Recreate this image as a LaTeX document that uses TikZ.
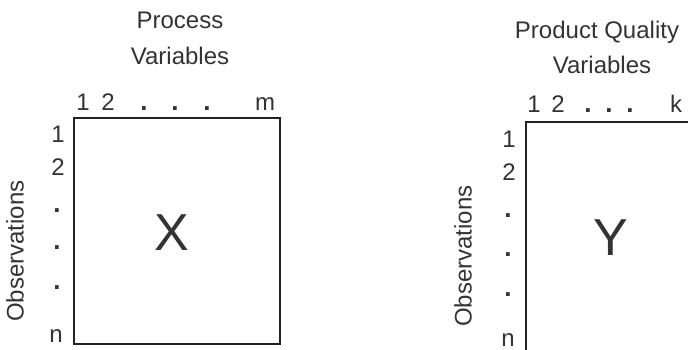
\documentclass[tikz,border=0pt]{standalone}
\usepackage{fontspec}
\setmainfont{Liberation Sans}
\definecolor{ink}{HTML}{333333}
\definecolor{edge}{HTML}{222222}
\begin{document}
\begin{tikzpicture}[x=1pt,y=-1pt,
  lbl/.style={font=\fontsize{24}{28}\selectfont, text=ink, inner sep=0pt, anchor=base},
  dotl/.style={font=\fontsize{26}{28}\selectfont\bfseries, text=ink, inner sep=0pt, anchor=base},
  big/.style={font=\fontsize{52}{60}\selectfont, text=ink, inner sep=0pt, anchor=base},
  vlbl/.style={font=\fontsize{24}{28}\selectfont, text=ink, inner sep=0pt, anchor=center, rotate=90},
  matbox/.style={draw=edge, line width=2pt, inner sep=0pt, outer sep=0pt, anchor=north west}]
\useasboundingbox (0,0) rectangle (688,349);
\clip (0,0) rectangle (688,349);

% ---- X matrix ----
\node[matbox, minimum width=206pt, minimum height=226pt] (Xbox) at (74,118) {};
\node[big] (Xl) at (172,250) {X};
\node[lbl] (xt1) at (180,28) {Process};
\node[lbl] (xt2) at (180,64) {Variables};
\node[lbl] (xc1) at (83,110) {1};
\node[lbl] (xc2) at (108,110) {2};
\node[dotl] (xc3) at (144,110) {.};
\node[dotl] (xc4) at (175,110) {.};
\node[dotl] (xc5) at (207,110) {.};
\node[lbl] (xcm) at (265,110) {m};
\node[lbl] (xr1) at (58,142) {1};
\node[lbl] (xr2) at (58,175) {2};
\node[dotl] (xr3) at (57,212) {.};
\node[dotl] (xr4) at (57,249) {.};
\node[dotl] (xr5) at (57,289) {.};
\node[lbl] (xrn) at (56,342) {n};
\node[vlbl] (xobs) at (15,251) {Observations};

% ---- Y matrix ----
\node[matbox, minimum width=260pt, minimum height=260pt] (Ybox) at (526,122) {};
\node[big] (Yl) at (611,255) {Y};
\node[lbl] (yt1) at (597,38) {Product Quality};
\node[lbl] (yt2) at (602,73) {Variables};
\node[lbl] (yc1) at (534,112) {1};
\node[lbl] (yc2) at (558,112) {2};
\node[dotl] (yc3) at (588,112) {.};
\node[dotl] (yc4) at (609,112) {.};
\node[dotl] (yc5) at (630,112) {.};
\node[lbl] (yck) at (676,112) {k};
\node[lbl] (yr1) at (509,147) {1};
\node[lbl] (yr2) at (509,180) {2};
\node[dotl] (yr3) at (508,217) {.};
\node[dotl] (yr4) at (508,256) {.};
\node[dotl] (yr5) at (508,296) {.};
\node[lbl] (yrn) at (508,346) {n};
\node[vlbl] (yobs) at (463,256) {Observations};
\end{tikzpicture}
\end{document}
